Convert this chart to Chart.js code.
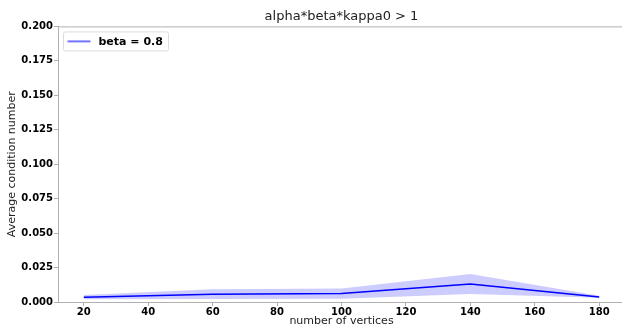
<!DOCTYPE html>
<html>
<head>
<meta charset="utf-8">
<title>alpha*beta*kappa0 > 1</title>
<script src="https://cdn.jsdelivr.net/npm/chart.js@4/dist/chart.umd.min.js"></script>
<style>
  html, body { margin: 0; padding: 0; background: #fff; overflow: hidden; }
  canvas { display: block; }
</style>
</head>
<body>
<canvas id="chart" width="626" height="328"></canvas>
<script>
  // values
  const vertices = [20, 60, 100, 140, 180];
  const meanCond = [0.0034, 0.0056, 0.0062, 0.0130, 0.0037];
  const upperBand = [0.0050, 0.0092, 0.0098, 0.0203, 0.0045];
  const lowerBand = [0.0020, 0.0022, 0.0024, 0.0058, 0.0030];
  const xTicks = [20, 40, 60, 80, 100, 120, 140, 160, 180];
  const yTicks = [0, 0.025, 0.05, 0.075, 0.1, 0.125, 0.15, 0.175, 0.2];
  const seriesLabel = 'beta = 0.8';
  const chartTitle = 'alpha*beta*kappa0 > 1';

  const FONT = 'DejaVu Sans';
  const AXIS_COLOR = '#b0b0b0';
  const pts = arr => vertices.map((v, i) => ({ x: v, y: arr[i] }));

  // title centred on the plot area, matplotlib-like legend box, top spine
  const extras = {
    id: 'extras',
    afterDraw(chart) {
      const { ctx, chartArea } = chart;
      ctx.save();
      ctx.fillStyle = '#222';
      ctx.font = '13px "' + FONT + '"';
      ctx.textAlign = 'center';
      ctx.textBaseline = 'middle';
      ctx.fillText(chartTitle, (chartArea.left + chartArea.right) / 2, 17);

      ctx.strokeStyle = AXIS_COLOR;
      ctx.lineWidth = 1;
      ctx.beginPath();
      ctx.moveTo(chartArea.left, chartArea.top + 0.5);
      ctx.lineTo(chartArea.right, chartArea.top + 0.5);
      ctx.stroke();

      const bx = chartArea.left + 5.5, by = chartArea.top + 5.5, bw = 105, bh = 19;
      ctx.fillStyle = 'rgba(255,255,255,0.85)';
      ctx.strokeStyle = '#dcdcdc';
      ctx.beginPath();
      ctx.roundRect(bx, by, bw, bh, 2);
      ctx.fill();
      ctx.stroke();

      ctx.strokeStyle = 'rgba(0,0,255,0.55)';
      ctx.lineWidth = 2;
      ctx.beginPath();
      ctx.moveTo(bx + 4, by + bh / 2);
      ctx.lineTo(bx + 27, by + bh / 2);
      ctx.stroke();

      ctx.fillStyle = '#000';
      ctx.font = 'bold 11px "' + FONT + '"';
      ctx.textBaseline = 'middle';
      ctx.textAlign = 'left';
      ctx.fillText(seriesLabel, bx + 35, by + bh / 2 + 0.5);
      ctx.restore();
    }
  };

  new Chart(document.getElementById('chart'), {
    type: 'line',
    data: {
      datasets: [
        { label: 'upper', data: pts(upperBand), borderWidth: 0, pointRadius: 0, fill: '+1', backgroundColor: 'rgba(0,0,255,0.2)', borderColor: 'rgba(0,0,0,0)', tension: 0, order: 2 },
        { label: 'lower', data: pts(lowerBand), borderWidth: 0, pointRadius: 0, fill: false, borderColor: 'rgba(0,0,0,0)', tension: 0, order: 2 },
        { label: seriesLabel, data: pts(meanCond), borderWidth: 1.5, pointRadius: 0, fill: false, borderColor: '#0000ff', tension: 0, order: 1 }
      ]
    },
    options: {
      responsive: false,
      animation: false,
      layout: { padding: { left: 0, right: 1, top: 0, bottom: 0 } },
      plugins: {
        legend: { display: false },
        tooltip: { enabled: false },
        // reserves the space above the plot; the text itself is drawn by 'extras'
        title: {
          display: true,
          text: chartTitle,
          color: 'rgba(0,0,0,0)',
          font: { family: FONT, size: 12, weight: 'normal' },
          padding: { top: 10, bottom: 2 }
        }
      },
      scales: {
        x: {
          type: 'linear',
          min: 12,
          max: 188,
          afterBuildTicks: s => { s.ticks = xTicks.map(v => ({ value: v })); },
          afterFit: s => { s.height = 26; },
          grid: { drawOnChartArea: false, drawTicks: true, tickLength: 4, color: AXIS_COLOR },
          border: { display: true, color: AXIS_COLOR },
          ticks: { color: '#000', padding: 0, maxRotation: 0, font: { family: FONT, size: 10, weight: 'bold' } },
          title: { display: true, text: 'number of vertices', color: '#222', font: { family: FONT, size: 11 }, padding: { top: 0, bottom: 0 } }
        },
        y: {
          min: 0,
          max: 0.2,
          afterBuildTicks: s => { s.ticks = yTicks.map(v => ({ value: v })); },
          afterFit: s => { s.width = 58; },
          grid: { drawOnChartArea: false, drawTicks: true, tickLength: 4, color: AXIS_COLOR },
          border: { display: true, color: AXIS_COLOR },
          ticks: { color: '#000', padding: 1, callback: v => Number(v).toFixed(3), font: { family: FONT, size: 10, weight: 'bold' } },
          title: { display: true, text: 'Average condition number', color: '#222', font: { family: FONT, size: 11 }, padding: { top: 6, bottom: 0 } }
        }
      }
    },
    plugins: [extras]
  });
</script>
</body>
</html>
